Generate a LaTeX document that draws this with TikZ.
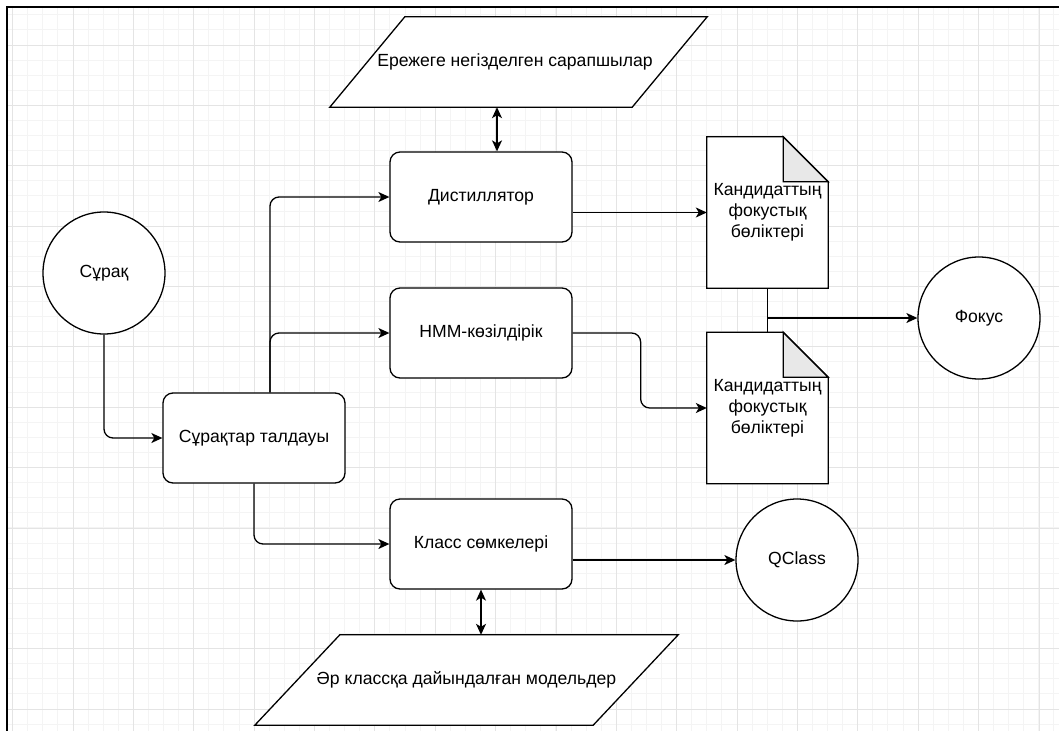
\documentclass[tikz,border=0pt]{standalone}
\usepackage{fontspec}
\setmainfont{Liberation Sans}
\usetikzlibrary{arrows.meta, positioning, backgrounds}

\definecolor{gridminor}{HTML}{F4F4F4}
\definecolor{gridmajor}{HTML}{E4E4E4}
\definecolor{foldgray}{HTML}{E8E8E8}

\begin{document}
\begin{tikzpicture}[x=1pt, y=-1pt,
    every node/.style={font=\fontsize{17.6}{21}\selectfont},
    shp/.style={draw, line width=1.3},
    proc/.style={shp, fill=white, rounded corners=10,
                 minimum width=182, minimum height=90, align=center},
    circ/.style={shp, circle, fill=white, minimum size=122},
    doc/.style={minimum width=121, minimum height=151, align=center},
    data/.style={minimum height=90, align=center},
    arr/.style={-{Stealth[length=11, width=10, inset=3]}, line width=1.3,
                rounded corners=9},
    dbl/.style={{Stealth[length=11, width=10, inset=3]}-{Stealth[length=11, width=10, inset=3]},
                line width=1.3}
  ]
  \useasboundingbox (0,0) rectangle (1059,731);

  % grid paper
  \begin{scope}[on background layer]
    \clip (7,7) rectangle (1059,731);
    \foreach \k in {0,...,70}
      \draw[gridminor, line width=0.8] ({12.6+15.09*\k},7) -- ++(0,724);
    \foreach \k in {0,...,48}
      \draw[gridminor, line width=0.8] (7,{-0.3+15.09*\k}) -- ++(1052,0);
    \foreach \k in {0,...,17}
      \draw[gridmajor, line width=0.8] ({12.6+60.37*\k},7) -- ++(0,724);
    \foreach \k in {0,...,12}
      \draw[gridmajor, line width=0.8] (7,{-15.4+60.37*\k}) -- ++(1052,0);
  \end{scope}
  \draw[line width=2] (1059,7) -- (7,7) -- (7,731);

  \node[circ] (q) at (104,273) {Сұрақ};
  \node[proc] (qa) at (254,438) {Сұрақтар талдауы};
  \node[proc] (dist) at (481,197) {Дистиллятор};
  \node[proc] (hmm) at (481,333) {HMM-көзілдірік};
  \node[proc] (cls) at (481,544) {Класс сөмкелері};

  \node[doc] (doc1) at (767.5,212.5) {Кандидаттың\\фокустық\\бөліктері};
  \node[doc] (doc2) at (767.5,408) {Кандидаттың\\фокустық\\бөліктері};
  \node[circ] (focus) at (979,318) {Фокус};
  \node[circ] (qc) at (797,560) {QClass};

  \node[data, minimum width=377] (rules) at (518.5,62) {\hspace*{-7pt}Ережеге негізделген сарапшылар};
  \node[data, minimum width=423] (models) at (466.5,680) {Әр классқа дайындалған модельдер};

  \begin{scope}[on background layer]
    \draw[shp, fill=white] ([xshift=75]rules.north west) -- (rules.north east)
      -- ([xshift=-75]rules.south east) -- (rules.south west) -- cycle;
    \draw[shp, fill=white] ([xshift=85]models.north west) -- (models.north east)
      -- ([xshift=-85]models.south east) -- (models.south west) -- cycle;
    \foreach \d in {doc1,doc2} {
      \draw[shp, fill=white] (\d.north west) -- ([xshift=-45]\d.north east)
        -- ([yshift=-45]\d.north east) -- (\d.south east) -- (\d.south west) -- cycle;
      \draw[shp, fill=foldgray] ([xshift=-45]\d.north east)
        -- ([xshift=-45,yshift=-45]\d.north east) -- ([yshift=-45]\d.north east) -- cycle;
    }
  \end{scope}

  \draw[arr] (q.south) |- (qa.west);
  \draw[arr] ([xshift=16]qa.north) |- (dist.west);
  \draw[arr] ([xshift=16]qa.north) |- (hmm.west);
  \draw[arr] (qa.south) |- (cls.west);

  \draw[arr] (dist.east |- doc1.west) -- (doc1.west);
  \draw[arr] (hmm.east) -- ++(68,0) |- (doc2.west);
  \draw[arr] (cls.east |- qc.west) -- (qc.west);

  \draw[line width=1.3] (doc1.south) -- (doc2.north);
  \coordinate (join) at (doc1.south |- focus.west);
  \draw[arr] (join) -- (focus.west);

  \draw[dbl] ([xshift=16]dist.north) -- ([xshift=16]dist.north |- rules.south);
  \draw[dbl] (cls.south) -- (cls.south |- models.north);
\end{tikzpicture}
\end{document}
